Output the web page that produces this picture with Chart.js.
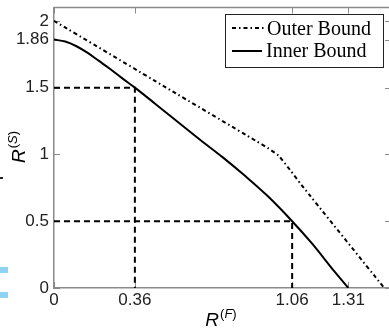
<!DOCTYPE html>
<html>
<head>
<meta charset="utf-8">
<script src="https://cdn.jsdelivr.net/npm/chart.js@4.4.1/dist/chart.umd.min.js"></script>
<style>
html, body { margin: 0; padding: 0; background: #fff; overflow: hidden; }
#wrap { position: relative; width: 400px; height: 328px; }
.chip { position: absolute; background: #8fd3f4; }
.nub { position: absolute; background: #222; }
</style>
</head>
<body>
<div id="wrap"><canvas id="bounds"></canvas></div>
<div class="nub" style="left:0;top:177px;width:3px;height:2px"></div>
<div class="chip" style="left:0;top:267px;width:8px;height:6px"></div>
<div class="chip" style="left:0;top:292px;width:8px;height:6px"></div>
<script>
// rate pairs (R^(F), R^(S))
const outerX = [0, 0.5, 0.9, 0.95, 1.0, 1.05, 1.1, 1.47];
const outerY = [2, 1.5, 1.1, 1.05, 0.99, 0.885, 0.775, 0];

const innerX = [0, 0.05, 0.1, 0.15, 0.2, 0.25, 0.3, 0.36, 0.45, 0.55, 0.65, 0.75, 0.85, 0.95, 1.06, 1.15, 1.25, 1.31];
const innerY = [1.86, 1.845, 1.81, 1.76, 1.70, 1.64, 1.575, 1.5, 1.38, 1.245, 1.11, 0.98, 0.84, 0.69, 0.5, 0.33, 0.12, 0];

// operating points marked with dashed guides
const guideX = [0.36, 1.06];
const guideY = [1.5, 0.5];

const xTicks = [0, 0.36, 1.06, 1.31];
const yTicks = [0, 0.5, 1, 1.5, 1.86, 2];

const AXIS_GRAY = '#8a8a8a';
const pts = (xs, ys) => xs.map((x, i) => ({ x: x, y: ys[i] }));

const datasets = [
    {
        label: 'Outer Bound',
        data: pts(outerX, outerY),
        borderColor: '#000',
        borderWidth: 2,
        borderDash: [4, 3, 1.5, 3],
        pointRadius: 0,
        tension: 0.2
    },
    {
        label: 'Inner Bound',
        data: pts(innerX, innerY),
        borderColor: '#000',
        borderWidth: 2,
        pointRadius: 0,
        cubicInterpolationMode: 'monotone'
    }
];
guideX.forEach(function(gx, i) {
    datasets.push({
        label: 'guide' + i,
        data: [{ x: 0, y: guideY[i] }, { x: gx, y: guideY[i] }, { x: gx, y: 0 }],
        borderColor: '#000',
        borderWidth: 2,
        borderDash: [6, 4],
        pointRadius: 0,
        tension: 0
    });
});

// box frame, inward tick marks, legend and axis titles
const framePlugin = {
    id: 'frame',
    beforeDatasetsDraw(chart) {
        const ctx = chart.ctx;
        const a = chart.chartArea;
        const xs = chart.scales.x, ys = chart.scales.y;
        ctx.save();
        ctx.strokeStyle = AXIS_GRAY;
        ctx.lineWidth = 1.5;
        ctx.beginPath();
        ctx.moveTo(a.left, a.top); ctx.lineTo(a.right, a.top);
        ctx.moveTo(a.right, a.top); ctx.lineTo(a.right, a.bottom);
        ctx.stroke();
        ctx.lineWidth = 1;
        ctx.beginPath();
        xTicks.forEach(function(v) {
            const px = Math.round(xs.getPixelForValue(v)) + 0.5;
            ctx.moveTo(px, a.bottom); ctx.lineTo(px, a.bottom - 6);
            ctx.moveTo(px, a.top); ctx.lineTo(px, a.top + 6);
        });
        yTicks.forEach(function(v) {
            const py = Math.round(ys.getPixelForValue(v)) + 0.5;
            ctx.moveTo(a.left, py); ctx.lineTo(a.left + 6, py);
            ctx.moveTo(a.right, py); ctx.lineTo(a.right - 6, py);
        });
        ctx.stroke();
        ctx.restore();
    },
    afterDraw(chart) {
        const ctx = chart.ctx;
        ctx.save();

        // legend
        ctx.fillStyle = '#fff';
        ctx.fillRect(225, 14, 158, 53);
        ctx.strokeStyle = '#222';
        ctx.lineWidth = 1;
        ctx.strokeRect(225.5, 14.5, 158, 53);
        ctx.strokeStyle = '#000';
        ctx.lineWidth = 2;
        ctx.setLineDash([4, 3, 1.5, 3]);
        ctx.beginPath(); ctx.moveTo(232, 28); ctx.lineTo(265, 28); ctx.stroke();
        ctx.setLineDash([]);
        ctx.beginPath(); ctx.moveTo(232, 51); ctx.lineTo(262, 51); ctx.stroke();
        ctx.fillStyle = '#000';
        ctx.font = '20px "Liberation Serif"';
        ctx.textAlign = 'left';
        ctx.textBaseline = 'alphabetic';
        ctx.fillText('Outer Bound', 267, 35);
        ctx.fillText('Inner Bound', 266, 57);

        // axis titles, R with a raised (F) / (S)
        function rateLabel(sup, cx, baseY) {
            const main = 'italic 19px "Liberation Sans"';
            const up = '13px "Liberation Sans"';
            const upIt = 'italic 13px "Liberation Sans"';
            ctx.font = main; const wR = ctx.measureText('R').width;
            ctx.font = up; const wP = ctx.measureText('(').width;
            ctx.font = upIt; const wS = ctx.measureText(sup).width;
            const total = wR + 1 + wP * 2 + wS;
            let x = cx - total / 2;
            ctx.font = main; ctx.fillText('R', x, baseY); x += wR + 1;
            ctx.font = up; ctx.fillText('(', x, baseY - 8); x += wP;
            ctx.font = upIt; ctx.fillText(sup, x, baseY - 8); x += wS;
            ctx.font = up; ctx.fillText(')', x, baseY - 8);
        }
        rateLabel('F', 221, 326);
        ctx.translate(25, 147);
        ctx.rotate(-Math.PI / 2);
        rateLabel('S', 0, 0);
        ctx.restore();
    }
};

const tickFont = { family: '"Liberation Sans"', size: 17 };

new Chart(document.getElementById('bounds').getContext('2d'), {
    type: 'line',
    data: { datasets: datasets },
    options: {
        responsive: true,
        maintainAspectRatio: false,
        animation: false,
        events: [],
        layout: { padding: { top: 7.5, right: 9, left: 0, bottom: 0 } },
        plugins: { legend: { display: false }, tooltip: { enabled: false } },
        scales: {
            x: {
                type: 'linear',
                min: 0,
                max: 1.5,
                grid: { display: false, drawTicks: false },
                border: { display: true, color: AXIS_GRAY, width: 1.5 },
                ticks: {
                    font: tickFont,
                    color: '#222',
                    padding: 2,
                    maxRotation: 0,
                    autoSkip: false,
                    callback: function(v) { return String(v); }
                },
                afterBuildTicks: function(s) { s.ticks = xTicks.map(function(v) { return { value: v }; }); },
                afterFit: function(s) { s.height = 40; s.paddingLeft = 0; s.paddingRight = 0; }
            },
            y: {
                type: 'linear',
                min: 0,
                max: 2.1,
                grid: { display: false, drawTicks: false },
                border: { display: true, color: AXIS_GRAY, width: 1.5 },
                ticks: {
                    font: tickFont,
                    color: '#222',
                    padding: 5,
                    autoSkip: false,
                    callback: function(v) { return String(v); }
                },
                afterBuildTicks: function(s) { s.ticks = yTicks.map(function(v) { return { value: v }; }); },
                afterFit: function(s) { s.width = 54; s.paddingTop = 0; s.paddingBottom = 0; }
            }
        }
    },
    plugins: [framePlugin]
});
</script>
</body>
</html>
